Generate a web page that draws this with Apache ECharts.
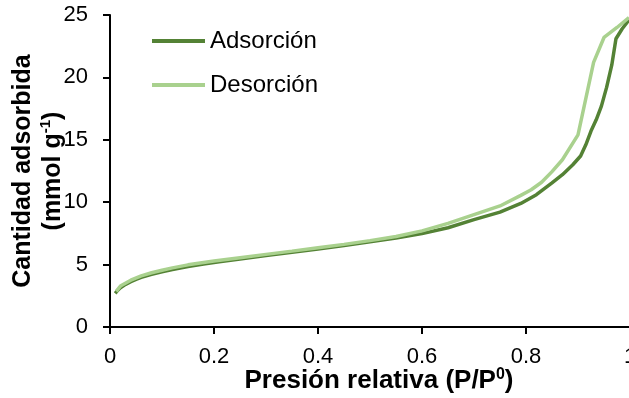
<!DOCTYPE html>
<html>
<head>
<meta charset="utf-8">
<style>
  html, body { margin: 0; padding: 0; background: #fff; }
  #chart { width: 629px; height: 398px; }
</style>
<script src="https://cdn.jsdelivr.net/npm/echarts@6/dist/echarts.min.js"></script>
</head>
<body>
<div id="chart"></div>
<script>
// Isotherm: adsorbed amount vs relative pressure
const seriesNames = ['Adsorción', 'Desorción'];
const seriesColors = ['#548235', '#A9D18E'];

const pressureAds = [0.010, 0.015, 0.020, 0.030, 0.040, 0.050, 0.060, 0.080, 0.100, 0.120,
  0.150, 0.180, 0.210, 0.250, 0.300, 0.350, 0.400, 0.450, 0.500, 0.550,
  0.600, 0.650, 0.700, 0.750, 0.790, 0.820, 0.850, 0.870, 0.890, 0.905,
  0.915, 0.925, 0.935, 0.945, 0.955, 0.965, 0.973, 0.985, 0.998];
const amountAds = [2.70, 2.95, 3.15, 3.42, 3.63, 3.82, 3.98, 4.22, 4.42, 4.60,
  4.85, 5.05, 5.22, 5.45, 5.72, 5.98, 6.25, 6.52, 6.82, 7.12,
  7.48, 7.95, 8.60, 9.20, 9.90, 10.60, 11.55, 12.20, 13.00, 13.70,
  14.60, 15.70, 16.60, 17.70, 19.20, 21.00, 23.10, 23.90, 24.60];

const pressureDes = [0.998, 0.975, 0.950, 0.930, 0.900, 0.870, 0.850, 0.830, 0.810, 0.790,
  0.750, 0.700, 0.650, 0.600, 0.550, 0.500, 0.450, 0.400, 0.350, 0.300,
  0.250, 0.200, 0.150, 0.120, 0.100, 0.080, 0.060, 0.040, 0.020, 0.012];
const amountDes = [24.80, 24.00, 23.20, 21.20, 15.40, 13.40, 12.45, 11.60, 11.00, 10.55,
  9.70, 9.00, 8.30, 7.70, 7.25, 6.92, 6.62, 6.35, 6.08, 5.82,
  5.55, 5.28, 4.98, 4.74, 4.55, 4.35, 4.10, 3.75, 3.28, 2.85];

const xTicks = { min: 0, max: 1, interval: 0.2 };
const yTicks = { min: 0, max: 25, interval: 5 };

const FONT = '"Liberation Sans", Arial, sans-serif';
const AXIS_BLACK = '#000';

function pairs(xs, ys) { return xs.map((x, i) => [x, ys[i]]); }

const chart = echarts.init(document.getElementById('chart'), null, { renderer: 'canvas' });

const axisCommon = {
  type: 'value',
  axisLine: { show: true, onZero: false, lineStyle: { color: AXIS_BLACK, width: 2 } },
  axisTick: { show: true, inside: false, length: 7, lineStyle: { color: AXIS_BLACK, width: 2 } },
  splitLine: { show: false },
  axisLabel: { color: AXIS_BLACK, fontFamily: FONT, fontSize: 22 },
  nameMoveOverlap: false
};

chart.setOption({
  animation: false,
  backgroundColor: '#fff',
  textStyle: { fontFamily: FONT },
  grid: { left: 110, top: 15, width: 520, bottom: 71, containLabel: false, outerBoundsMode: 'none' },
  legend: {
    orient: 'vertical',
    left: 152,
    top: 29,
    padding: 0,
    icon: 'rect',
    itemWidth: 53,
    itemHeight: 4,
    itemGap: 20,
    textStyle: { color: AXIS_BLACK, fontFamily: FONT, fontSize: 24, lineHeight: 24 },
    data: seriesNames
  },
  xAxis: Object.assign({}, axisCommon, {
    min: xTicks.min, max: xTicks.max, interval: xTicks.interval,
    axisLabel: Object.assign({}, axisCommon.axisLabel, { margin: 19, showMaxLabel: true }),
    name: '{t|Presión relativa (P/P}{s|0}{t|)}',
    nameLocation: 'middle',
    nameGap: 40,
    nameTextStyle: {
      padding: [0, 0, 0, 18],
      rich: {
        t: { fontFamily: FONT, fontSize: 26, fontWeight: 'bold', color: AXIS_BLACK, lineHeight: 28 },
        s: { fontFamily: FONT, fontSize: 16, fontWeight: 'bold', color: AXIS_BLACK, verticalAlign: 'top', lineHeight: 28, padding: [0, 0, 10, 0] }
      }
    }
  }),
  yAxis: Object.assign({}, axisCommon, {
    min: yTicks.min, max: yTicks.max, interval: yTicks.interval,
    axisLabel: Object.assign({}, axisCommon.axisLabel, { margin: 22 }),
    name: '{t|Cantidad adsorbida}\n{t|(mmol g}{s|-1}{t|)}',
    nameLocation: 'middle',
    nameGap: 42,
    nameTextStyle: {
      rich: {
        t: { fontFamily: FONT, fontSize: 25, fontWeight: 'bold', color: AXIS_BLACK, lineHeight: 30 },
        s: { fontFamily: FONT, fontSize: 15, fontWeight: 'bold', color: AXIS_BLACK, verticalAlign: 'top', lineHeight: 30, padding: [0, 0, 12, 0] }
      }
    }
  }),
  series: seriesNames.map((name, i) => ({
    name: name,
    type: 'line',
    symbol: 'none',
    smooth: false,
    lineStyle: { color: seriesColors[i], width: 3.5 },
    itemStyle: { color: seriesColors[i] },
    data: i === 0 ? pairs(pressureAds, amountAds) : pairs(pressureDes, amountDes)
  }))
});
</script>
</body>
</html>
